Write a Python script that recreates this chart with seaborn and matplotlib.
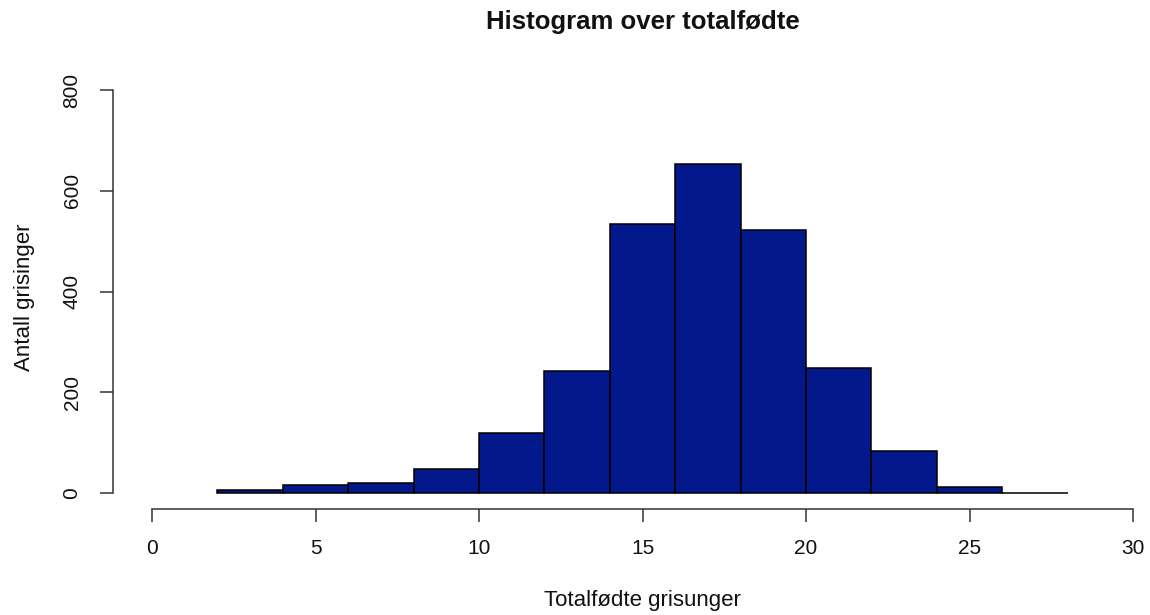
import numpy as np
import pandas as pd
import matplotlib
matplotlib.use("Agg")
import matplotlib.pyplot as plt
import seaborn as sns

# Litter size classes (bin edges, width 2) and number of sows per class
bin_edges = [2, 4, 6, 8, 10, 12, 14, 16, 18, 20, 22, 24, 26, 28]
counts = [6, 17, 20, 48, 120, 243, 535, 653, 523, 249, 83, 13, 1]
x_ticks = [0, 5, 10, 15, 20, 25, 30]
y_ticks = [0, 200, 400, 600, 800]

title = "Histogram over totalfødte"
x_label = "Totalfødte grisunger"
y_label = "Antall grisinger"

centers = [(a + b) / 2 for a, b in zip(bin_edges[:-1], bin_edges[1:])]
df = pd.DataFrame({"totalfodte": centers, "antall": counts})

sns.set_style("white")
plt.rcParams["font.family"] = ["Liberation Sans", "DejaVu Sans"]

fig = plt.figure(figsize=(11.5, 6.15), dpi=100)
ax = fig.add_axes([0.0981, 0.1717, 0.9019, 0.708])

sns.histplot(data=df, x="totalfodte", weights="antall", bins=bin_edges,
             color="#03188A", edgecolor="black", linewidth=1.1, alpha=1.0,
             ax=ax)

ax.set_xlim(-1.2, 30.52)
ax.set_ylim(-32, 832)

for side in ("top", "right"):
    ax.spines[side].set_visible(False)
ax.spines["left"].set_bounds(0, 800)
ax.spines["bottom"].set_bounds(0, 30)
for side in ("left", "bottom"):
    ax.spines[side].set_color("#333333")
    ax.spines[side].set_linewidth(1.1)

ax.set_xticks(x_ticks)
ax.set_yticks(y_ticks)
ax.set_xticklabels([str(t) for t in x_ticks])
ax.set_yticklabels([str(t) for t in y_ticks], rotation=90, va="center")
ax.tick_params(axis="both", direction="out", length=9.5, width=1.1,
               color="#333333", labelsize=15, labelcolor="#111111",
               bottom=True, left=True)
ax.tick_params(axis="x", pad=12)
ax.tick_params(axis="y", pad=13)

ax.set_xlabel(x_label, fontsize=16, color="#111111")
ax.xaxis.label.set_va("center")
ax.xaxis.set_label_coords(0.5107, -0.2097)
ax.set_ylabel(y_label, fontsize=16, color="#111111")
ax.yaxis.label.set_va("center")
ax.yaxis.set_label_coords(-0.0856, 0.488)

ax.set_title(title, fontsize=18.5, fontweight="bold", color="#111111",
             x=0.5107, y=1.0, pad=0)
ax.title.set_va("center")
ax.title.set_position((0.5107, (509.4 - 22) / 435.4))

fig.savefig("out.png", dpi=100)
